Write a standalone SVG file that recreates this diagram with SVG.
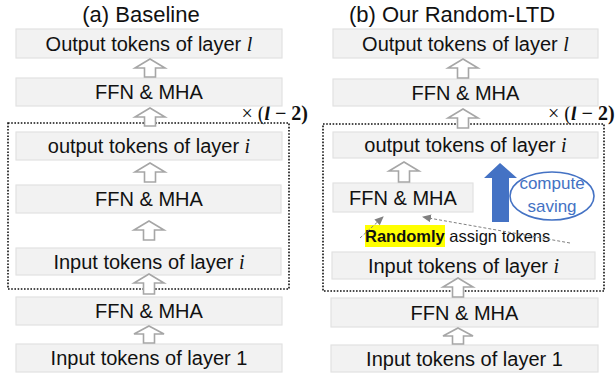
<svg xmlns="http://www.w3.org/2000/svg" width="615" height="373" viewBox="0 0 615 373">
<style>
.box{fill:#F2F2F2;stroke:#E2E2E2;stroke-width:1.2}
.t{font-family:"Liberation Sans",Arial,sans-serif;font-size:20px;fill:#111;text-anchor:middle}
.title{font-family:"Liberation Sans",Arial,sans-serif;font-size:22px;fill:#111;text-anchor:middle}
.m{font-family:"Liberation Serif","DejaVu Serif",serif;font-style:italic}
.arr{fill:#fff;stroke:#A6A6A6;stroke-width:1.6}
.dot{fill:none;stroke:#111;stroke-width:1.6;stroke-dasharray:1.6 1.6}
.rep{font-family:"Liberation Serif","DejaVu Serif",serif;font-size:20px;fill:#111}
.dash{fill:none;stroke:#808080;stroke-width:1;stroke-dasharray:3 2}
.blue{font-family:"Liberation Sans",Arial,sans-serif;font-size:17px;fill:#4472C4;text-anchor:middle}
</style>
<defs>
<marker id="ah" markerWidth="10" markerHeight="10" refX="8" refY="4" orient="auto" markerUnits="userSpaceOnUse">
<path d="M0,0 L9,4 L0,8 Z" fill="#808080"/>
</marker>
</defs>

<text class="title" x="141" y="22">(a) Baseline</text>
<text class="title" x="452" y="22">(b) Our Random-LTD</text>

<!-- dotted repeat regions -->
<rect class="dot" x="8" y="123" width="281" height="166"/>
<rect class="dot" x="323" y="124" width="281" height="167"/>
<text class="rep" x="308" y="120" text-anchor="end">× (<tspan font-weight="bold" font-style="italic">l</tspan> <tspan font-weight="bold">− 2)</tspan></text>
<text class="rep" x="548" y="120">× (<tspan font-weight="bold" font-style="italic">l</tspan> <tspan font-weight="bold">− 2)</tspan></text>

<!-- left nodes -->
<g id="a-out-l"><rect class="box" x="16" y="29" width="266" height="29"/><text class="t" x="149" y="50.5">Output tokens of layer <tspan class="m">l</tspan></text></g>
<g id="a-ffn-top"><rect class="box" x="16" y="78" width="266" height="28"/><text class="t" x="149" y="99">FFN &amp; MHA</text></g>
<g id="a-out-i"><rect class="box" x="16" y="132" width="266" height="28"/><text class="t" x="149" y="153">output tokens of layer <tspan class="m">i</tspan></text></g>
<g id="a-ffn-i"><rect class="box" x="16" y="185" width="265" height="28"/><text class="t" x="149" y="206">FFN &amp; MHA</text></g>
<g id="a-in-i"><rect class="box" x="16" y="248" width="265" height="27"/><text class="t" x="149" y="268.5">Input tokens of layer <tspan class="m">i</tspan></text></g>
<g id="a-ffn-1"><rect class="box" x="16" y="297" width="266" height="28"/><text class="t" x="149" y="318">FFN &amp; MHA</text></g>
<g id="a-in-1"><rect class="box" x="16" y="344" width="266" height="28"/><text class="t" x="149" y="365">Input tokens of layer 1</text></g>

<!-- right nodes -->
<g id="b-out-l"><rect class="box" x="333" y="29" width="265" height="29"/><text class="t" x="465.5" y="50.5">Output tokens of layer <tspan class="m">l</tspan></text></g>
<g id="b-ffn-top"><rect class="box" x="333" y="79" width="265" height="27"/><text class="t" x="465.5" y="99.5">FFN &amp; MHA</text></g>
<g id="b-out-i"><rect class="box" x="333" y="132" width="265" height="26"/><text class="t" x="465.5" y="152">output tokens of layer <tspan class="m">i</tspan></text></g>
<g id="b-ffn-i"><rect class="box" x="333" y="183" width="140" height="29"/><text class="t" x="403" y="204.5">FFN &amp; MHA</text></g>
<g id="b-in-i"><rect class="box" x="332" y="252" width="263" height="27"/><text class="t" x="463.5" y="272.5">Input tokens of layer <tspan class="m">i</tspan></text></g>
<g id="b-ffn-1"><rect class="box" x="331" y="298" width="267" height="29"/><text class="t" x="464.5" y="319.5">FFN &amp; MHA</text></g>
<g id="b-in-1"><rect class="box" x="331" y="345" width="267" height="27"/><text class="t" x="464.5" y="365.5">Input tokens of layer 1</text></g>

<g id="compute-saving">
<path d="M500,163 L517,178 L509,178 L509,222 L492,222 L492,178 L484,178 Z" fill="#4472C4"/>
<ellipse cx="552" cy="196" rx="42" ry="24" fill="#fff" stroke="#4472C4" stroke-width="1.6"/>
<text class="blue" x="552" y="189">compute</text>
<text class="blue" x="552" y="212">saving</text>
</g>

<g id="random-assign">
<rect x="365" y="225" width="80" height="22" fill="#FFFF00"/>
<text x="365" y="242" font-family="'Liberation Sans',Arial,sans-serif" font-size="16.5" fill="#111"><tspan font-weight="bold">Randomly</tspan> assign tokens</text>
</g>

<!-- connectors -->
<g id="connectors">
<path class="arr" d="M150,59 L165,68 L155.5,68 L155.5,77 L144.5,77 L144.5,68 L135,68 Z"/>
<path class="arr" d="M150,108 L165,117 L155.5,117 L155.5,126 L144.5,126 L144.5,117 L135,117 Z"/>
<path class="arr" d="M150,163 L165,172 L155.5,172 L155.5,182 L144.5,182 L144.5,172 L135,172 Z"/>
<path class="arr" d="M149,221 L164,230 L154.5,230 L154.5,240 L143.5,240 L143.5,230 L134,230 Z"/>
<path class="arr" d="M149,274 L164,283 L154.5,283 L154.5,294 L143.5,294 L143.5,283 L134,283 Z"/>
<path class="arr" d="M149,326 L164,334 L154.5,334 L154.5,343 L143.5,343 L143.5,334 L134,334 Z"/>

<path class="arr" d="M463,59 L478,68 L468.5,68 L468.5,78 L457.5,78 L457.5,68 L448,68 Z"/>
<path class="arr" d="M463,109 L478,118 L468.5,118 L468.5,128 L457.5,128 L457.5,118 L448,118 Z"/>
<path class="arr" d="M404,162 L419,171 L409.5,171 L409.5,182 L398.5,182 L398.5,171 L389,171 Z"/>
<path class="arr" d="M458,278 L473,287 L463.5,287 L463.5,297 L452.5,297 L452.5,287 L443,287 Z"/>
<path class="arr" d="M458,328 L473,336 L463.5,336 L463.5,344 L452.5,344 L452.5,336 L443,336 Z"/>

<line class="dash" x1="360" y1="238" x2="383" y2="217" marker-end="url(#ah)"/>
<line class="dash" x1="570" y1="243" x2="423" y2="217" marker-end="url(#ah)"/>
</g>
</svg>
